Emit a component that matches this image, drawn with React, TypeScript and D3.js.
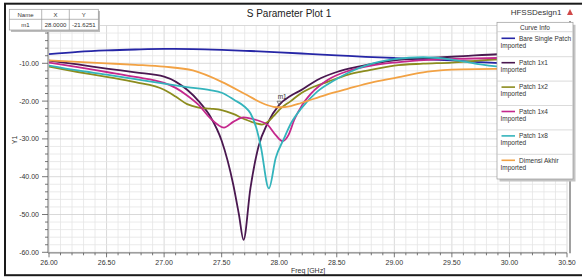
import React from "react";
import * as d3 from "d3";

// S11 curves: [freq GHz, dB]
const bareSinglePatch: [number, number][] = [
  [26.0, -7.6], [26.25, -7.0], [26.5, -6.6], [26.75, -6.35], [27.0, -6.2], [27.25, -6.25],
  [27.5, -6.45], [27.75, -6.75], [28.0, -7.1], [28.25, -7.5], [28.5, -7.9], [28.75, -8.3],
  [29.0, -8.6], [29.25, -8.9], [29.5, -9.2], [29.75, -9.7], [30.0, -10.1], [30.25, -10.4], [30.5, -10.6],
];

const patch1x1: [number, number][] = [
  [26.0, -9.3], [26.25, -10.3], [26.5, -11.4], [26.75, -12.4], [27.0, -13.5], [27.2, -17],
  [27.3, -20], [27.4, -24], [27.5, -30.5], [27.6, -42], [27.65, -50], [27.69, -56.7],
  [27.75, -43], [27.82, -32], [27.9, -25.8], [28.0, -21.0], [28.1, -18.6], [28.19, -17.1],
  [28.33, -14.4], [28.5, -12.3], [28.7, -10.8], [29.0, -9.2], [29.3, -8.6], [29.6, -8.1],
  [29.9, -7.6], [30.2, -7.3], [30.5, -7.1],
];

const patch1x2: [number, number][] = [
  [26.0, -10.9], [26.25, -12.3], [26.5, -13.6], [26.75, -15], [27.0, -17], [27.1, -18.8],
  [27.2, -20.8], [27.3, -21.7], [27.4, -22.0], [27.5, -22.4], [27.6, -23.4], [27.7, -24.8],
  [27.8, -25.9], [27.85, -26.2], [27.9, -25.5], [27.95, -24], [28.0, -22.3], [28.1, -20],
  [28.19, -17.9], [28.3, -16.2], [28.42, -14.9], [28.6, -13.0], [28.75, -12], [29.0, -10.6],
  [29.25, -10.1], [29.5, -9.8], [29.75, -9.2], [30.0, -8.8], [30.25, -8.6], [30.5, -8.4],
];

const patch1x4: [number, number][] = [
  [26.0, -9.8], [26.25, -11.0], [26.5, -12.3], [26.75, -13.6], [27.0, -15.2], [27.1, -16.5],
  [27.2, -18.5], [27.3, -21], [27.4, -24.5], [27.52, -27], [27.6, -25.5], [27.69, -24.3],
  [27.8, -25], [27.9, -26.3], [27.97, -29], [28.03, -30.6], [28.08, -29], [28.13, -25],
  [28.2, -21], [28.28, -17.9], [28.42, -14.4], [28.6, -12], [28.8, -10.6], [29.0, -9.8],
  [29.3, -9.1], [29.6, -8.8], [29.9, -8.6], [30.2, -8.5], [30.5, -8.4],
];

const patch1x8: [number, number][] = [
  [26.0, -10.6], [26.25, -11.9], [26.5, -13.0], [26.75, -14.2], [27.0, -15.4], [27.2, -16.3],
  [27.4, -17.1], [27.5, -17.8], [27.61, -19.7], [27.7, -21.5], [27.75, -23.2], [27.8, -27],
  [27.84, -32], [27.91, -43.1], [27.97, -35], [28.04, -30], [28.1, -26], [28.19, -22],
  [28.33, -17.5], [28.48, -14.5], [28.6, -12.5], [28.75, -10.6], [29.0, -8.9], [29.25, -8.4],
  [29.5, -9.0], [29.75, -10.3], [30.0, -11.2], [30.25, -11.5], [30.5, -11.6],
];

const dimensiAkhir: [number, number][] = [
  [26.0, -9.2], [26.25, -9.6], [26.5, -10.0], [26.75, -10.4], [27.0, -10.9], [27.25, -11.9],
  [27.5, -14.9], [27.72, -18.4], [27.85, -20.5], [27.95, -21.5], [28.0, -21.63], [28.1, -21.3],
  [28.19, -20.5], [28.4, -18.4], [28.6, -16.7], [28.8, -15.1], [29.0, -13.9], [29.29, -12.2],
  [29.58, -11.6], [29.87, -11.5], [30.2, -11.5], [30.5, -11.5],
];

const seriesNames = ["Bare Single Patch", "Patch 1x1", "Patch 1x2", "Patch 1x4", "Patch 1x8", "Dimensi Akhir"];
const seriesData = [bareSinglePatch, patch1x1, patch1x2, patch1x4, patch1x8, dimensiAkhir];
const seriesColors = ["#2626a6", "#4a1850", "#8c8c1e", "#c4288c", "#34b4bc", "#f2a244"];

const xTickLabels = [26.0, 26.5, 27.0, 27.5, 28.0, 28.5, 29.0, 29.5, 30.0, 30.5];
const yTickLabels = [-10, -20, -30, -40, -50, -60];

const markerName = "m1";
const markerX = 28.0;
const markerY = -21.6251;

const W = 582;
const H = 277;
const FONT = "'Liberation Sans', Arial, sans-serif";

const App: React.FC = () => {
  const x = d3.scaleLinear().domain([26, 30.5]).range([49, 567]);
  const y = d3.scaleLinear().domain([-60, 0]).range([252.3, 25.5]);

  const line = d3
    .line<[number, number]>()
    .x((d) => x(d[0]))
    .y((d) => y(d[1]))
    .curve(d3.curveMonotoneX);

  const xMinor = d3.range(0, 46).map((i) => 26 + i * 0.1);
  const yMinor = d3.range(-60, 1, 2);
  const [x0, x1] = x.range();
  const [yB, yT] = y.range();

  const legX = 497;
  const legY = 22.3;
  const legW = 76;
  const rowH = 24.4;

  return (
    <svg
      width={W}
      height={H}
      style={{ position: "absolute", left: 0, top: 0, display: "block", background: "#fff" }}
      fontFamily={FONT}
    >
      <defs>
        <clipPath id="plot">
          <rect x={x0} y={yT} width={x1 - x0} height={yB - yT} />
        </clipPath>
      </defs>

      {/* grid */}
      {xMinor.map((v, i) => (
        <line key={"gx" + i} x1={x(v)} x2={x(v)} y1={yT} y2={yB}
          stroke={i % 5 === 0 ? "#cfcfcf" : "#e4e4e4"} strokeWidth={0.8} />
      ))}
      {yMinor.map((v, i) => (
        <line key={"gy" + i} x1={x0} x2={x1} y1={y(v)} y2={y(v)}
          stroke={v % 10 === 0 ? "#cfcfcf" : "#e4e4e4"} strokeWidth={0.8} />
      ))}

      {/* axes */}
      <line x1={48} x2={48} y1={yT} y2={yB + 0.5} stroke="#888" strokeWidth={1.2} />
      <line x1={48} x2={x1} y1={yB + 0.5} y2={yB + 0.5} stroke="#888" strokeWidth={1.2} />
      <line x1={570} x2={570} y1={21} y2={yB + 1} stroke="#a0a0a0" strokeWidth={2} />
      {yMinor.map((v, i) => (
        <line key={"ty" + i} x1={v % 10 === 0 ? 42 : 45} x2={48} y1={y(v)} y2={y(v)} stroke="#555" strokeWidth={0.8} />
      ))}
      {xMinor.map((v, i) => (
        <line key={"tx" + i} x1={x(v)} x2={x(v)} y1={yB + 0.5} y2={yB + (i % 5 === 0 ? 5 : 3)} stroke="#555" strokeWidth={0.8} />
      ))}
      {yTickLabels.map((v) => (
        <text key={"ly" + v} x={39} y={y(v)} dy="0.35em" textAnchor="end" fontSize={7} fill="#333">
          {v.toFixed(2)}
        </text>
      ))}
      {xTickLabels.map((v) => (
        <text key={"lx" + v} x={x(v)} y={265} textAnchor="middle" fontSize={7} fill="#333">
          {v.toFixed(2)}
        </text>
      ))}
      <text x={(x0 + x1) / 2} y={273} textAnchor="middle" fontSize={7} fill="#333">Freq [GHz]</text>
      <text transform={`translate(17,140) rotate(-90)`} textAnchor="middle" fontSize={7} fill="#333">Y1</text>

      {/* curves */}
      <g clipPath="url(#plot)">
        {seriesData.map((s, i) => (
          <path key={seriesNames[i]} d={line(s) ?? ""} fill="none" stroke={seriesColors[i]} strokeWidth={1.8} />
        ))}
      </g>

      {/* marker */}
      <text x={x(markerX) + 3} y={y(markerY) - 8} textAnchor="middle" fontSize={6.5} fill="#333">{markerName}</text>
      <path
        d={`M${x(markerX) - 2.2},${y(markerY) - 6} L${x(markerX) + 2.2},${y(markerY) - 6} L${x(markerX)},${y(markerY) - 2} Z`}
        fill="none" stroke="#555" strokeWidth={0.7}
      />

      {/* title */}
      <text x={289} y={17} textAnchor="middle" fontSize={10} fill="#222">S Parameter Plot 1</text>
      <text x={536} y={15} textAnchor="middle" fontSize={8} fill="#333">HFSSDesign1</text>
      <path d="M570,9 L573,15 L567,15 Z" fill="#d04848" />

      {/* marker table */}
      <rect x={11} y={11} width={89} height={21} fill="#bdbdbd" />
      <rect x={9.3} y={9.3} width={89} height={20.7} fill="#fff" stroke="#999" strokeWidth={0.7} />
      <line x1={9.3} x2={98.3} y1={19.3} y2={19.3} stroke="#999" strokeWidth={0.7} />
      <line x1={41.7} x2={41.7} y1={9.3} y2={30} stroke="#999" strokeWidth={0.7} />
      <line x1={69.3} x2={69.3} y1={9.3} y2={30} stroke="#999" strokeWidth={0.7} />
      {["Name", "X", "Y"].map((t, i) => (
        <text key={t} x={[25.5, 55.5, 83.8][i]} y={16.8} textAnchor="middle" fontSize={6} fill="#333">{t}</text>
      ))}
      {[markerName, markerX.toFixed(4), markerY.toFixed(4)].map((t, i) => (
        <text key={"r" + i} x={[25.5, 55.5, 83.8][i]} y={27.2} textAnchor="middle" fontSize={6} fill="#333">{t}</text>
      ))}

      {/* legend */}
      <rect x={legX + 2.5} y={legY + 2.5} width={legW} height={179 - legY} fill="#c4c4c4" />
      <rect x={legX} y={legY} width={legW} height={179 - legY} fill="#fff" stroke="#999" strokeWidth={0.7} />
      <text x={legX + legW / 2} y={30} textAnchor="middle" fontSize={6.5} fill="#333">Curve Info</text>
      <line x1={legX} x2={legX + legW} y1={31.7} y2={31.7} stroke="#ccc" strokeWidth={0.7} />
      {seriesNames.map((n, i) => {
        const ly = 38.3 + i * rowH;
        return (
          <g key={"leg" + n}>
            <line x1={501.5} x2={515} y1={ly} y2={ly} stroke={seriesColors[i]} strokeWidth={1.6} />
            <text x={519} y={ly + 2.3} fontSize={6.5} fill="#333">{n}</text>
            <text x={500.5} y={ly + 9.3} fontSize={6.5} fill="#333">Imported</text>
            {i < seriesNames.length - 1 && (
              <line x1={legX} x2={legX + legW} y1={56.7 + i * rowH} y2={56.7 + i * rowH} stroke="#ccc" strokeWidth={0.7} />
            )}
          </g>
        );
      })}

      {/* frame */}
      <rect x={5} y={3.7} width={600} height={271.5} fill="none" stroke="#1a1a1a" strokeWidth={2} />
    </svg>
  );
};

export default App;
